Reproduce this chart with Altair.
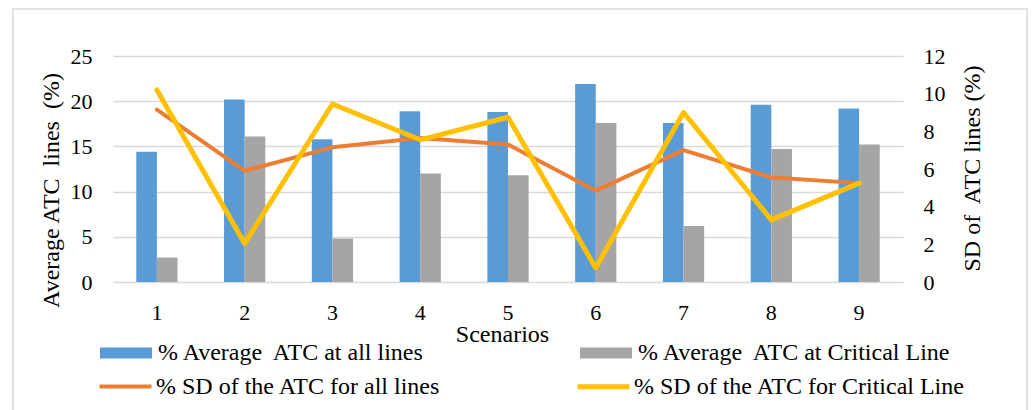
import altair as alt
import pandas as pd

scenarios = [1, 2, 3, 4, 5, 6, 7, 8, 9]
avg_all = [14.4, 20.2, 15.8, 18.9, 18.8, 21.9, 17.6, 19.6, 19.2]
avg_critical = [2.7, 16.1, 4.8, 12.0, 11.8, 17.6, 6.2, 14.7, 15.2]
sd_all = [9.15, 5.9, 7.15, 7.65, 7.3, 4.85, 7.0, 5.55, 5.25]
sd_critical = [10.2, 2.05, 9.45, 7.55, 8.75, 0.75, 9.0, 3.3, 5.25]

NB = "\u00a0"
bar_names = [f"% Average{NB} ATC at all lines", f"% Average{NB} ATC at Critical Line"]
line_names = ["% SD of the ATC for all lines", "% SD of the ATC for Critical Line"]
left_title = f"Average ATC{NB} lines{NB} (%)"
right_title = f"SD of{NB} ATC lines (%)"

FONT = "Liberation Serif"
BLUE, GRAY, ORANGE, YELLOW = "#5B9BD5", "#A5A5A5", "#ED7D31", "#FFC000"

bars_df = pd.DataFrame({
    "Scenario": scenarios * 2,
    "series": [bar_names[0]] * 9 + [bar_names[1]] * 9,
    "value": avg_all + avg_critical,
})
lines_df = pd.DataFrame({
    "Scenario": scenarios * 2,
    "series": [line_names[0]] * 9 + [line_names[1]] * 9,
    "value": sd_all + sd_critical,
})

x_enc = alt.X(
    "Scenario:O",
    scale=alt.Scale(paddingInner=0.53, paddingOuter=0.265),
    axis=alt.Axis(
        title="Scenarios", labelAngle=0, domain=False, ticks=False, tickSize=0,
        labelPadding=20, labelFont=FONT, labelFontSize=22, labelColor="black",
        titleFont=FONT, titleFontSize=24, titleFontWeight="normal", titleColor="black",
        titleBaseline="alphabetic", titleY=59, titleX=389, titleAlign="center",
    ),
)

frame = alt.Chart(pd.DataFrame({"a": [0]})).mark_rect(
    fill="white", fillOpacity=0, stroke="#D9D9D9", strokeWidth=1.5
).encode(
    x=alt.value(-100), x2=alt.value(914), y=alt.value(-47), y2=alt.value(420)
)

bars = alt.Chart(bars_df).mark_bar().encode(
    x=x_enc,
    xOffset=alt.XOffset("series:N", sort=bar_names,
                        scale=alt.Scale(domain=bar_names, paddingInner=0, paddingOuter=0)),
    y=alt.Y(
        "value:Q",
        scale=alt.Scale(domain=[0, 25], nice=False),
        axis=alt.Axis(
            orient="left", values=[0, 5, 10, 15, 20, 25], title=left_title,
            domain=False, ticks=False, tickSize=0, grid=True, gridColor="#D9D9D9", gridWidth=1.5,
            labelPadding=21, labelFont=FONT, labelFontSize=22, labelColor="black",
            titleFont=FONT, titleFontSize=24, titleFontWeight="normal", titleColor="black",
            titleAngle=270, titleBaseline="alphabetic", titleAlign="center",
            titleX=-55, titleY=134,
        ),
    ),
    fill=alt.Fill(
        "series:N",
        scale=alt.Scale(domain=bar_names, range=[BLUE, GRAY]),
        legend=alt.Legend(
            title=None, orient="none", legendX=-13, legendY=271, direction="horizontal",
            columns=2, columnPadding=154, padding=0,
            symbolType="M-1,-0.21H1V0.21H-1Z", symbolSize=2704, symbolStrokeWidth=0,
            labelFont=FONT, labelFontSize=24, labelColor="black", labelLimit=600, labelOffset=6,
        ),
    ),
)

lines = alt.Chart(lines_df).mark_line(strokeJoin="round", strokeCap="round").encode(
    x=x_enc,
    y=alt.Y(
        "value:Q",
        scale=alt.Scale(domain=[0, 12], nice=False),
        axis=alt.Axis(
            orient="right", values=[0, 2, 4, 6, 8, 10, 12], title=right_title,
            domain=False, ticks=False, tickSize=0, grid=False,
            labelPadding=20, labelFont=FONT, labelFontSize=22, labelColor="black",
            titleFont=FONT, titleFontSize=24, titleFontWeight="normal", titleColor="black",
            titleAngle=270, titleBaseline="alphabetic", titleAlign="center",
            titleX=76, titleY=112,
        ),
    ),
    stroke=alt.Stroke(
        "series:N",
        scale=alt.Scale(domain=line_names, range=[ORANGE, YELLOW]),
        legend=alt.Legend(
            title=None, orient="none", legendX=-16, legendY=302, direction="horizontal",
            columns=2, columnPadding=126, padding=0,
            symbolType="stroke", symbolSize=2704, symbolStrokeWidth=5.5,
            labelFont=FONT, labelFontSize=24, labelColor="black", labelLimit=600, labelOffset=2,
        ),
    ),
    strokeWidth=alt.StrokeWidth(
        "series:N", scale=alt.Scale(domain=line_names, range=[4, 5]), legend=None
    ),
)

chart = alt.layer(frame, bars, lines).resolve_scale(
    y="independent"
).properties(
    width=790, height=226,
    autosize=alt.AutoSizeParams(type="none"),
    padding={"left": 113, "top": 56, "right": 129, "bottom": 128},
    background="white",
).configure_view(strokeWidth=0)

chart.save("out.html", embed_options={"renderer": "svg", "actions": False})
